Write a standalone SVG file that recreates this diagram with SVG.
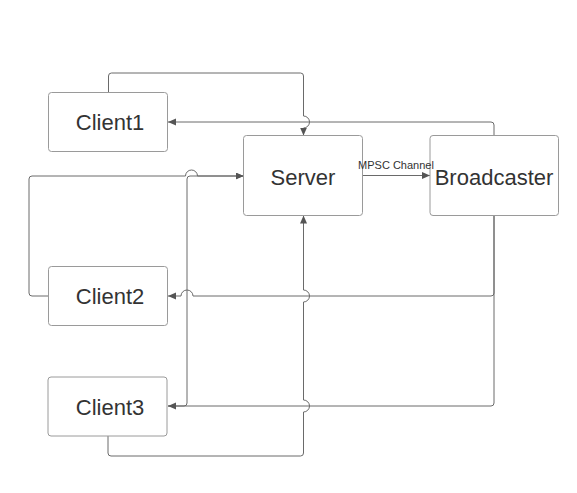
<svg xmlns="http://www.w3.org/2000/svg" width="577" height="493" viewBox="0 0 577 493">
<defs>
<marker id="arr" markerUnits="userSpaceOnUse" markerWidth="9" markerHeight="8" refX="8" refY="3.5" orient="auto">
<path d="M0,0 L8,3.5 L0,7 z" fill="#555"/>
</marker>
<style>
.node rect{fill:#fff;stroke:#9a9a9a;stroke-width:1}
.node text{font-family:"Liberation Sans",Arial,sans-serif;font-size:22px;fill:#333;text-anchor:middle}
.conn path{fill:none;stroke:#6a6a6a;stroke-width:1}
.conn path.a{marker-end:url(#arr)}
.lbl{font-family:"Liberation Sans",Arial,sans-serif;font-size:11px;fill:#333333;text-anchor:middle}
</style>
</defs>
<rect width="577" height="493" fill="#fff"/>
<g id="connectors" class="conn">
<path class="a" d="M108.5,92.5 V76 Q108.5,73 111.5,73 H300.5 Q303.5,73 303.5,76 V116 A6,6 0 0 1 303.5,128 V135.5"/>
<path class="a" d="M494,135.5 V125 Q494,122 491,122 H168"/>
<path class="a" d="M362.5,175.5 H430"/>
<path class="a" d="M48.5,296 H32 Q29,296 29,293 V179 Q29,176 32,176 H185.5 A6,6 0 0 1 197.5,176 H243.5"/>
<path class="a" d="M168,406 H184 Q187,406 187,403 V179 Q187,176 190,176 H243.5"/>
<path class="a" d="M108,436 V453 Q108,456 111,456 H300.5 Q303.5,456 303.5,453 V412 A6,6 0 0 0 303.5,400 V302 A6,6 0 0 0 303.5,290 V215.5"/>
<path class="a" d="M494,215.5 V293 Q494,296 491,296 H193 A6,6 0 0 0 181,296 H168"/>
<path class="a" d="M494,215.5 V403 Q494,406 491,406 H168"/>
</g>
<g id="client1" class="node">
<rect x="48.5" y="92.5" width="119" height="59" rx="3"/>
<text x="110" y="130">Client1</text>
</g>
<g id="server" class="node">
<rect x="243.5" y="135.5" width="119" height="80" rx="3"/>
<text x="303" y="185">Server</text>
</g>
<g id="broadcaster" class="node">
<rect x="430" y="135.5" width="128.5" height="80" rx="3"/>
<text x="494" y="185">Broadcaster</text>
</g>
<g id="client2" class="node">
<rect x="48.5" y="266.5" width="119" height="59" rx="3"/>
<text x="110" y="304">Client2</text>
</g>
<g id="client3" class="node">
<rect x="48" y="377" width="119" height="59" rx="3"/>
<text x="110" y="415">Client3</text>
</g>
<g id="connector-label">
<text class="lbl" x="396" y="169">MPSC Channel</text>
</g>
</svg>
